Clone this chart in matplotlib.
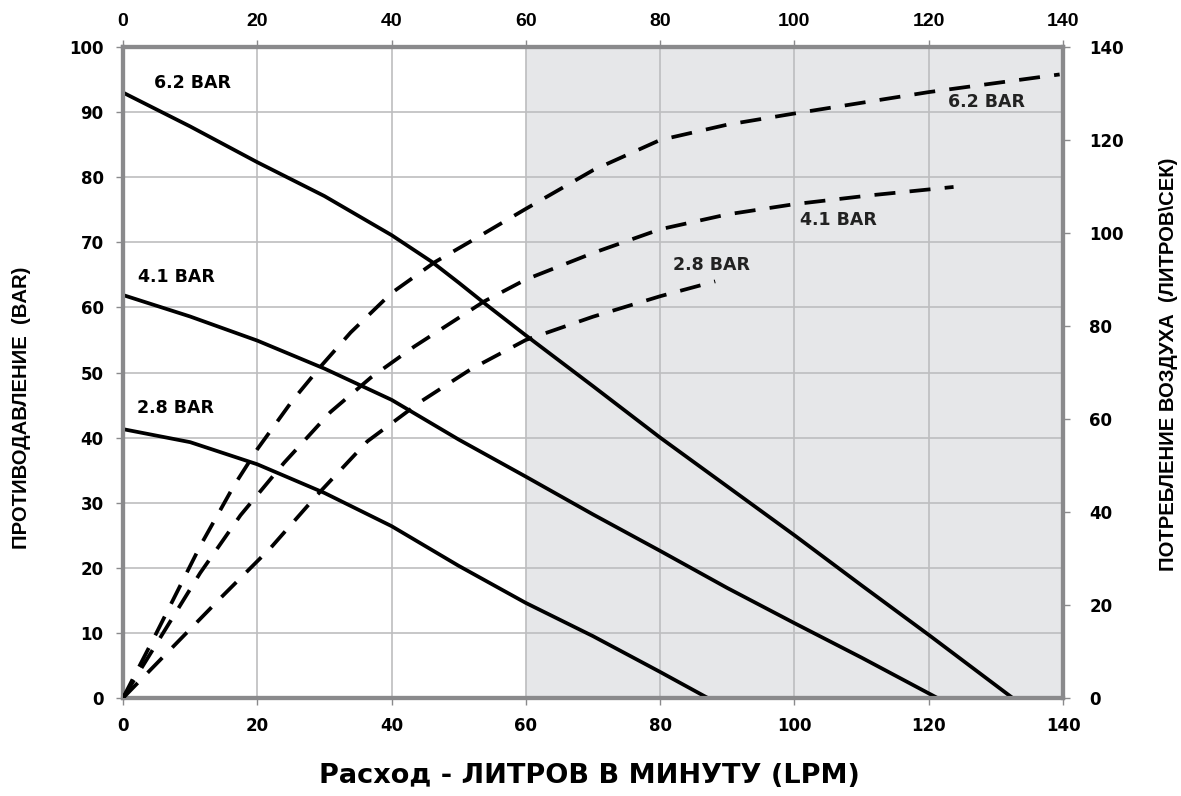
import numpy as np
import matplotlib
matplotlib.use('Agg')
import matplotlib.pyplot as plt
from matplotlib.font_manager import FontProperties

#--------------------------------------------------#
# Back pressure curves (left axis, BAR) vs flow (LPM)
x_62 = [0, 10, 20, 30, 40, 46, 50, 54, 60, 70, 80, 90, 100, 110, 120, 132.5]
p_62 = [93.0, 87.8, 82.3, 77.1, 71.1, 67.0, 63.8, 60.5, 55.7, 47.9, 40.0, 32.5, 25.0, 17.3, 9.7, 0]
x_41 = [0, 10, 20, 30, 40, 50, 60, 70, 80, 90, 100, 110, 121.3]
p_41 = [61.9, 58.6, 54.9, 50.6, 45.8, 39.7, 34.0, 28.2, 22.6, 16.9, 11.5, 6.2, 0]
x_28 = [0, 10, 20, 30, 40, 50, 60, 70, 80, 87.1]
p_28 = [41.3, 39.3, 35.9, 31.5, 26.4, 20.3, 14.6, 9.5, 4.0, 0]

# Air consumption curves (right axis, L/s) vs flow (LPM)
xa_62 = [0, 4.6, 11.5, 16.5, 20, 25.2, 29.5, 33.9, 40, 46.4, 51.3, 60, 70, 80, 90, 100, 120, 139.5]
a_62 = [0, 12.9, 32.7, 45.6, 53.5, 63.9, 71.4, 78.6, 87.1, 93.7, 97.8, 105.2, 113.5, 120.0, 123.3, 125.7, 130.3, 134.1]
xa_41 = [0, 11.5, 17.5, 24, 30.9, 36.9, 43.4, 46.4, 53.8, 60, 70, 80, 90, 100, 111.3, 123.7]
a_41 = [0, 26.9, 39.3, 50.6, 61.5, 68.9, 75.6, 78.4, 85.3, 90.0, 95.7, 100.8, 104.0, 106.2, 108.1, 109.9]
xa_28 = [0, 7.3, 14.8, 22, 29, 36.4, 44.4, 51.8, 60, 70, 80, 88.2]
a_28 = [0, 10.8, 21.9, 32.3, 43.8, 55.2, 63.8, 70.7, 77.0, 82.0, 86.4, 89.6]

xticks = [0, 20, 40, 60, 80, 100, 120, 140]
lticks = [0, 10, 20, 30, 40, 50, 60, 70, 80, 90, 100]
rticks = [0, 20, 40, 60, 80, 100, 120, 140]

xlabel = 'Расход - ЛИТРОВ В МИНУТУ (LPM)'
ylabel_left = 'ПРОТИВОДАВЛЕНИЕ  (BAR)'
ylabel_right = 'ПОТРЕБЛЕНИЕ ВОЗДУХА  (ЛИТРОВ\\СЕК)'
#--------------------------------------------------#

spinecol = '#8a8a8c'
gridcol = '#bdbdbf'
shade = '#e6e7e9'
lw = 2.7
tickfont = dict(family='DejaVu Sans', weight='bold', size=12)
lblfont = dict(family='DejaVu Sans', weight='bold', size=12.5)
axfont = dict(family='Liberation Sans', weight='bold', size=14.6)

fig = plt.figure(figsize=(11.81, 7.96), dpi=100)
ax = fig.add_axes([123/1181, 1 - 698/796, 940/1181, 651/796])
ax.set_xlim(0, 140)
ax.set_ylim(0, 100)
ax.axvspan(60, 140, color=shade, zorder=0)
ax.set_xticks(xticks)
ax.set_yticks(lticks)
ax.grid(True, color=gridcol, lw=1.2, zorder=1)
ax.set_axisbelow(True)

ax.plot(x_62, p_62, 'k', lw=lw, zorder=3)
ax.plot(x_41, p_41, 'k', lw=lw, zorder=3)
ax.plot(x_28, p_28, 'k', lw=lw, zorder=3)

ax2 = ax.twinx()
ax2.set_ylim(0, 140)
ax2.set_yticks(rticks)
for xs, ys in [(xa_62, a_62), (xa_41, a_41), (xa_28, a_28)]:
    ax2.plot(xs, ys, color='k', lw=lw, dashes=(5.6, 3.8), zorder=3)

# curve labels
ax.text(4.6, 94.5, '6.2 BAR', va='center', ha='left', **lblfont)
ax.text(2.3, 64.6, '4.1 BAR', va='center', ha='left', **lblfont)
ax.text(2.1, 44.6, '2.8 BAR', va='center', ha='left', **lblfont)
ax.text(122.9, 91.6, '6.2 BAR', va='center', ha='left', color='#222222', **lblfont)
ax.text(100.8, 73.4, '4.1 BAR', va='center', ha='left', color='#222222', **lblfont)
ax.text(81.9, 66.5, '2.8 BAR', va='center', ha='left', color='#222222', **lblfont)

top = ax.secondary_xaxis('top')
top.set_xticks(xticks)

for a in [ax, ax2]:
    for s in a.spines.values():
        s.set_color(spinecol)
        s.set_linewidth(3)
for a in [ax, ax2, top]:
    a.tick_params(color=spinecol, length=5, width=1, pad=9)
top.spines['top'].set_visible(False)
ax2.tick_params(pad=14)
top.tick_params(pad=7)

for l in ax.get_xticklabels() + ax.get_yticklabels() + ax2.get_yticklabels():
    l.set_fontproperties(FontProperties(**tickfont))
for l in top.get_xticklabels():
    l.set_fontproperties(FontProperties(family='Liberation Sans', weight='bold', size=14))

fig.text(589/1181, 1 - 776/796, xlabel, ha='center', va='center', family='DejaVu Sans', weight='bold', size=19.5)
fig.text(22/1181, 1 - 408/796, ylabel_left, ha='center', va='center', rotation=90, **axfont)
fig.text(1168/1181, 1 - 364/796, ylabel_right, ha='center', va='center', rotation=90, **axfont)

plt.savefig('out.png', dpi=100)
